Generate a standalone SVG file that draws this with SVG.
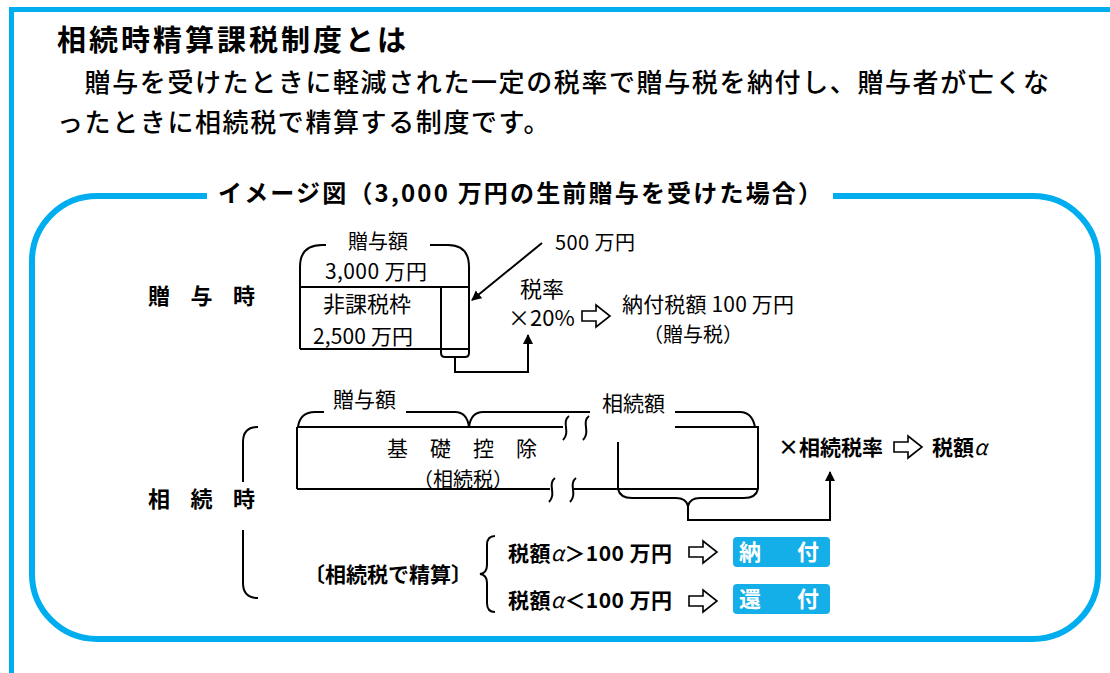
<svg xmlns="http://www.w3.org/2000/svg" width="1110" height="673" viewBox="0 0 1110 673">
<defs>
<style>
.b{font-family:"Noto Sans CJK JP","Noto Sans CJK SC",sans-serif;font-weight:700;fill:#000}
.m{font-family:"Noto Sans CJK JP","Noto Sans CJK SC",sans-serif;font-weight:500;fill:#000}
.r{font-family:"Noto Sans CJK JP","Noto Sans CJK SC",sans-serif;font-weight:400;fill:#000}
.w{font-family:"Noto Sans CJK JP","Noto Sans CJK SC",sans-serif;font-weight:700;fill:#fff}
.ln{fill:none;stroke:#000;stroke-width:2}
.blue{fill:none;stroke:#00AEEF}
.hollow{fill:#fff;stroke:#000;stroke-width:1.6;stroke-linejoin:miter}
.tag{fill:#14AEE8}
</style>
<marker id="ah" viewBox="0 0 10 10" refX="9" refY="5" markerWidth="10" markerHeight="12" markerUnits="userSpaceOnUse" orient="auto">
<path d="M0,0 L10,5 L0,10 Z" fill="#000"/>
</marker>
<path id="harrow" d="M0,-5 H14 V-11 L28,0 L14,11 V5 H0 Z"/>
</defs>
<rect width="1110" height="673" fill="#fff"/>

<g id="frame">
<path class="blue" stroke-width="5" d="M11.5,673 V9.5 H1110"/>
<path class="blue" stroke-width="6" d="M207,196 H97 A65,65 0 0 0 32,261 V574 A65,65 0 0 0 97,639 H1033 A65,65 0 0 0 1098,574 V261 A65,65 0 0 0 1033,196 H833"/>
</g>

<g id="header">
<text class="b" x="57" y="51" font-size="29" letter-spacing="3">相続時精算課税制度とは</text>
<text class="m" x="57" y="92" font-size="26" letter-spacing="1.6">　贈与を受けたときに軽減された一定の税率で贈与税を納付し、贈与者が亡くな</text>
<text class="m" x="57" y="132" font-size="26" letter-spacing="1.6">ったときに相続税で精算する制度です。</text>
<text class="b" x="218" y="202" font-size="24" textLength="604">イメージ図（3,000 万円の生前贈与を受けた場合）</text>
</g>

<g id="label-zouyoji"><text class="b" x="148" y="304" font-size="22" letter-spacing="20.5">贈与時</text></g>
<g id="label-souzokuji"><text class="b" x="148" y="507" font-size="22" letter-spacing="20.5">相続時</text></g>

<g id="gift-box">
<path class="ln" d="M300,349 V267 Q300,245 322,245 H326"/>
<path class="ln" d="M430,245 H448 Q469,245 469,267 V349"/>
<path class="ln" d="M300,287 H469 M300,349 H469"/>
<path class="ln" stroke-width="3" d="M441,287 V349"/>
<path class="ln" d="M441,349 V353 Q441,357 445,357 H465 Q469,357 469,353 V349"/>
<text class="r" x="348" y="249" font-size="20">贈与額</text>
<text class="r" x="325" y="279" font-size="21" textLength="102">3,000 万円</text>
<text class="r" x="323" y="312" font-size="22">非課税枠</text>
<text class="r" x="313" y="344" font-size="21" textLength="100">2,500 万円</text>
</g>

<g id="gift-tax">
<text class="r" x="555" y="250" font-size="20" textLength="80">500 万円</text>
<text class="r" x="520" y="297" font-size="22">税率</text>
<text class="r" x="508" y="326" font-size="22">×20%</text>
<use href="#harrow" class="hollow" x="582" y="316"/>
<text class="r" x="622" y="312" font-size="21" textLength="172">納付税額 100 万円</text>
<text class="r" x="643" y="342" font-size="20">（贈与税）</text>
</g>

<g id="inherit-box">
<path class="ln" d="M297,427 V489 M297,427 H563 M297,489 H550 M572,489 H758 M675,427 H758 V489 M618,442 V490"/>
<path class="ln" stroke-width="1.6" d="M569,416 C561,422 571,432 563,440 M589,416 C581,422 591,432 583,440 M555,478 C547,484 557,494 549,502 M576,478 C568,484 578,494 570,502"/>
<text class="r" x="333" y="407" font-size="21">贈与額</text>
<text class="r" x="602" y="411" font-size="21">相続額</text>
<text class="r" x="387" y="456" font-size="21" letter-spacing="22">基礎控除</text>
<text class="r" x="413" y="487" font-size="20">（相続税）</text>
</g>

<g id="inherit-tax">
<text class="b" x="778" y="455" font-size="21">×相続税率</text>
<use href="#harrow" class="hollow" x="894" y="447"/>
<text class="b" x="932" y="455" font-size="21">税額<tspan font-style="italic" font-weight="400">α</tspan></text>
</g>

<g id="settle">
<text class="b" x="304" y="582" font-size="21">〔相続税で精算〕</text>
<text class="b" x="508" y="561" font-size="21" textLength="164">税額<tspan font-style="italic" font-weight="400">α</tspan>＞100 万円</text>
<text class="b" x="508" y="608" font-size="21" textLength="164">税額<tspan font-style="italic" font-weight="400">α</tspan>＜100 万円</text>
<use href="#harrow" class="hollow" x="689" y="552"/>
<use href="#harrow" class="hollow" x="689" y="601"/>
</g>
<g id="tag-nofu"><rect class="tag" x="733" y="537" width="97" height="30" rx="4"/><text class="w" x="739" y="560" font-size="22" letter-spacing="7">納　付</text></g>
<g id="tag-kanpu"><rect class="tag" x="733" y="584" width="97" height="30" rx="4"/><text class="w" x="739" y="607" font-size="22" letter-spacing="7">還　付</text></g>

<g id="connectors">
<path class="ln" d="M258,427 Q243,427 243,442 V482 M243,530 V583 Q243,598 258,598"/>
<path class="ln" d="M495,536 Q487,536 487,545 V565 Q487,573 480,574 Q487,575 487,583 V603 Q487,612 495,612"/>
<path class="ln" d="M298,427 Q300,412 315,412 H324 M406,412 H455 Q467,412 469,427 Q471,412 483,412 H590 M675,412 H740 Q752,412 755,427"/>
<path class="ln" d="M618,489 Q620,498 632,498 H676 Q686,498 688,506 Q690,498 700,498 H744 Q756,498 758,489"/>
<path class="ln" d="M542,243 L472,300" marker-end="url(#ah)"/>
<path class="ln" d="M455,357 V372 H528 V335" marker-end="url(#ah)"/>
<path class="ln" d="M688,506 V520 H830 V472" marker-end="url(#ah)"/>
</g>
</svg>
